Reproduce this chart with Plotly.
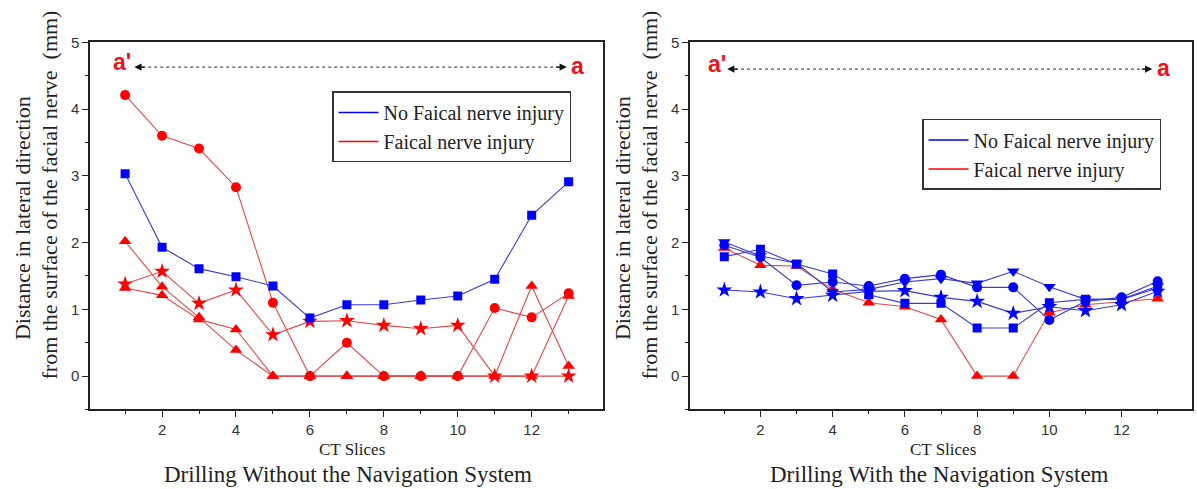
import plotly.graph_objects as go

W, H = 1197, 489

ct_slices = list(range(1, 14))

# Left: drilling without navigation
left_no_injury_sq = [3.03, 1.93, 1.61, 1.49, 1.35, 0.87, 1.07, 1.07, 1.14, 1.20, 1.45, 2.41, 2.91]
left_inj_circle = [4.21, 3.60, 3.41, 2.83, 1.10, 0.0, 0.50, 0.0, 0.0, 0.0, 1.02, 0.88, 1.24]
left_inj_star = [1.38, 1.57, 1.09, 1.29, 0.62, 0.82, 0.83, 0.76, 0.71, 0.76, 0.0, 0.0, 0.0]
left_inj_triA = [2.02, 1.34, 0.88, 0.39, 0.0, 0.0, 0.0, 0.0, 0.0, 0.0, 0.0, 1.35, 0.15]
left_inj_triB = [1.32, 1.21, 0.85, 0.70, 0.0, 0.0, 0.0, 0.0, 0.0, 0.0, 0.0, 0.0, 1.20]

# Right: drilling with navigation
right_no_sq = [1.79, 1.90, 1.68, 1.53, 1.22, 1.09, 1.09, 0.72, 0.72, 1.10, 1.15, 1.15, 1.32]
right_no_circle = [1.96, 1.78, 1.36, 1.41, 1.35, 1.46, 1.52, 1.33, 1.33, 0.84, 1.12, 1.18, 1.42]
right_no_star = [1.29, 1.26, 1.16, 1.21, 1.27, 1.28, 1.18, 1.12, 0.94, 1.04, 0.98, 1.07, 1.27]
right_no_tridown = [2.01, 1.80, 1.69, 1.26, 1.30, 1.41, 1.46, 1.39, 1.57, 1.34, 1.15, 1.15, 1.35]
right_inj_tri = [1.92, 1.66, 1.65, 1.30, 1.10, 1.04, 0.85, 0.0, 0.0, 0.95, 1.07, 1.12, 1.16]

legend_labels = ["No Faical nerve injury", "Faical nerve injury"]
y_title_1 = "Distance in lateral direction"
y_title_2 = "from the surface of the facial nerve  (mm)"
x_title = "CT Slices"
captions = ["Drilling Without the Navigation System", "Drilling With the Navigation System"]

BLUE = "#0000ff"
BLUE_LINE = "#3a3ad0"
RED = "#ff0000"
RED_LINE = "#e04848"
SERIF = "Liberation Serif, Times New Roman, serif"
SANS = "Liberation Sans, Arial, sans-serif"


def px(x):
    return x / W


def py(y):
    return 1 - y / H


fig = go.Figure()


def add_series(xa, ya, values, color, lcolor, symbol, size):
    fig.add_trace(go.Scatter(
        x=ct_slices, y=values, xaxis=xa, yaxis=ya, mode="lines+markers",
        line=dict(color=lcolor, width=1.1),
        marker=dict(symbol=symbol, size=size, color=color, line=dict(width=0)),
        showlegend=False, hoverinfo="skip"))


# left panel
for vals, sym, sz in [(left_inj_triB, "triangle-up", 11), (left_inj_triA, "triangle-up", 11),
                      (left_inj_star, "star", 12), (left_inj_circle, "circle", 10)]:
    add_series("x", "y", vals, RED, RED_LINE, sym, sz)
add_series("x", "y", left_no_injury_sq, BLUE, BLUE_LINE, "square", 9)

# right panel
add_series("x2", "y2", right_inj_tri, RED, RED_LINE, "triangle-up", 11)
for vals, sym, sz in [(right_no_star, "star", 12), (right_no_sq, "square", 9),
                      (right_no_circle, "circle", 10), (right_no_tridown, "triangle-down", 11)]:
    add_series("x2", "y2", vals, BLUE, BLUE_LINE, sym, sz)

# legend entries
for lg in ["legend", "legend2"]:
    for lab, col in zip(legend_labels, [BLUE, RED]):
        fig.add_trace(go.Scatter(x=[None], y=[None], mode="lines", name=lab,
                                 line=dict(color=col, width=1.6), legend=lg,
                                 showlegend=True))

xdom_l = [px(90), px(603)]
xdom_r = [px(690), px(1192)]
ydom = [py(408), py(34)]

axis_common = dict(showline=True, linecolor="#222", linewidth=1.5, mirror=True,
                   ticks="outside", ticklen=6, tickwidth=1.2, tickcolor="#222",
                   showgrid=False, zeroline=False,
                   tickfont=dict(family=SANS, size=15, color="#333"))

xaxis_common = dict(axis_common, range=[0.05, 13.93], tick0=0, dtick=2,
                    minor=dict(ticks="outside", ticklen=3, dtick=1, tick0=0, tickcolor="#222"))
yaxis_common = dict(axis_common, range=[-0.5, 5], tick0=0, dtick=1,
                    minor=dict(ticks="outside", ticklen=3, dtick=0.5, tick0=0, tickcolor="#222"))

fig.update_layout(
    width=W, height=H, margin=dict(l=0, r=0, t=0, b=0),
    paper_bgcolor="white", plot_bgcolor="white",
    xaxis=dict(xaxis_common, domain=xdom_l, anchor="y"),
    yaxis=dict(yaxis_common, domain=ydom, anchor="x"),
    xaxis2=dict(xaxis_common, domain=xdom_r, anchor="y2", range=[0.05, 13.95]),
    yaxis2=dict(yaxis_common, domain=ydom, anchor="x2"),
    legend=dict(x=px(332), y=py(84), xanchor="left", yanchor="top",
                bordercolor="#333", borderwidth=1.5, bgcolor="white",
                font=dict(family=SERIF, size=20, color="#222"),
                itemwidth=40, tracegroupgap=4),
    legend2=dict(x=px(922), y=py(112), xanchor="left", yanchor="top",
                 bordercolor="#333", borderwidth=1.5, bgcolor="white",
                 font=dict(family=SERIF, size=20, color="#222"),
                 itemwidth=40, tracegroupgap=4),
)

annotations = []
shapes = []

# y titles
for x1, x2 in [(22, 50), (622, 650)]:
    annotations.append(dict(x=px(x1), y=py(213), xref="paper", yref="paper", text=y_title_1,
                            textangle=-90, showarrow=False, xanchor="center", yanchor="middle",
                            font=dict(family=SERIF, size=22, color="#222")))
    annotations.append(dict(x=px(x2), y=py(190), xref="paper", yref="paper", text=y_title_2,
                            textangle=-90, showarrow=False, xanchor="center", yanchor="middle",
                            font=dict(family=SERIF, size=22, color="#222")))

# x titles and captions
for xc, cap in [(352, captions[0]), (943, captions[1])]:
    annotations.append(dict(x=px(xc), y=py(449), xref="paper", yref="paper", text=x_title,
                            showarrow=False, xanchor="center", yanchor="middle",
                            font=dict(family=SERIF, size=17, color="#222")))
    annotations.append(dict(x=px(xc - 4), y=py(474), xref="paper", yref="paper", text=cap,
                            showarrow=False, xanchor="center", yanchor="middle",
                            font=dict(family=SERIF, size=23, color="#222")))

# a' <-> a arrows
for xr, yr, xs, xe, ya, xa_lab, xb_lab in [("x", "y", 1.30, 12.9, 4.63, 0.92, 13.25),
                                           ("x2", "y2", 1.13, 12.8, 4.6, 0.8, 13.17)]:
    shapes.append(dict(type="line", xref=xr, yref=yr, x0=xs, x1=xe, y0=ya, y1=ya,
                       line=dict(color="#555", width=1.2, dash="dot")))
    annotations.append(dict(x=xs - 0.05, y=ya, xref=xr, yref=yr, ax=12, ay=0, text="",
                            showarrow=True, arrowhead=2, arrowsize=1.2, arrowwidth=1.2,
                            arrowcolor="#111"))
    annotations.append(dict(x=xe + 0.05, y=ya, xref=xr, yref=yr, ax=-12, ay=0, text="",
                            showarrow=True, arrowhead=2, arrowsize=1.2, arrowwidth=1.2,
                            arrowcolor="#111"))
    annotations.append(dict(x=xa_lab, y=ya + 0.08, xref=xr, yref=yr, text="<b>a'</b>",
                            showarrow=False, font=dict(family=SANS, size=23, color="#e8141e")))
    annotations.append(dict(x=xb_lab, y=ya + 0.02, xref=xr, yref=yr, text="<b>a</b>",
                            showarrow=False, font=dict(family=SANS, size=23, color="#e8141e")))

fig.update_layout(annotations=annotations, shapes=shapes)

fig.write_html("out.html")
